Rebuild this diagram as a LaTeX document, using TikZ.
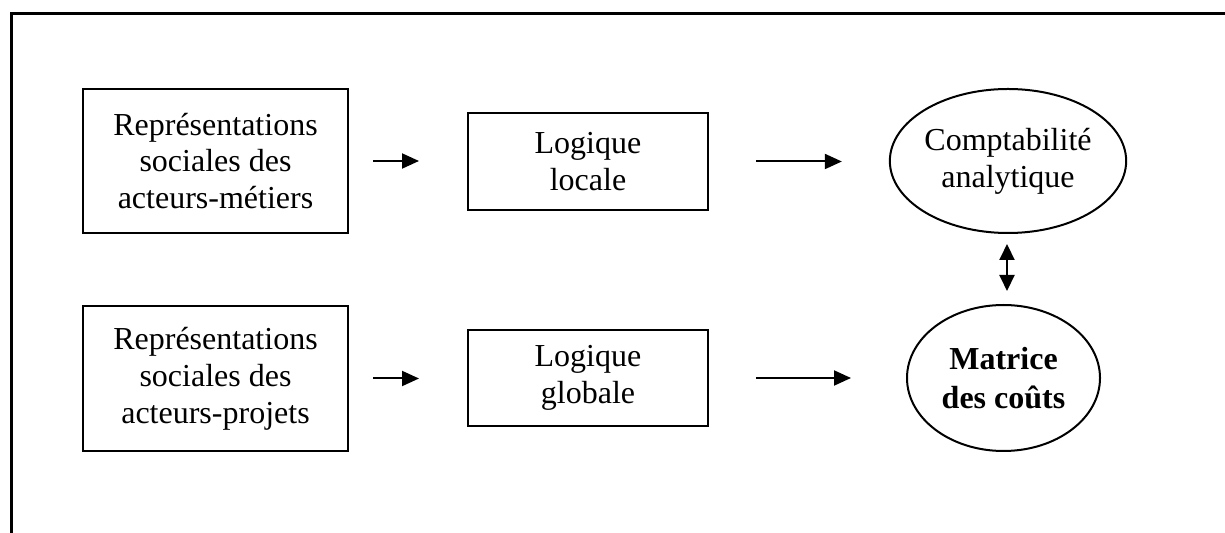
\documentclass[tikz,border=0pt]{standalone}
\usepackage{fontspec}
\setmainfont{Liberation Serif}
\usetikzlibrary{arrows.meta,shapes.geometric}
\begin{document}
\begin{tikzpicture}[x=0.5pt,y=-0.5pt,
  every node/.style={font=\fontsize{16}{18.4}\selectfont, align=center, line width=1pt, inner sep=0pt},
  rbox/.style={draw, rectangle},
  ellnode/.style={draw, ellipse},
  arr/.style={line width=1pt, -{Triangle[length=8.5pt,width=7.5pt]}},
  darr/.style={line width=1pt, {Triangle[length=8pt,width=7.5pt]}-{Triangle[length=8pt,width=7.5pt]}}]
\useasboundingbox (0,0) rectangle (1225,533);
\draw[line width=1.1pt] (11.5,533) -- (11.5,13.5) -- (1225,13.5);
% top row
\node[rbox, minimum width=132.5pt, minimum height=72pt] (b1) at (215.5,161) {Représentations\\sociales des\\acteurs-métiers};
\node[rbox, minimum width=120pt, minimum height=48.5pt] (b2) at (588,161.5) {Logique\\locale};
\node[ellnode, minimum width=109pt, minimum height=72pt] (e1) at (1008,161) {Comptabilité\\analytique};
% bottom row
\node[rbox, minimum width=132.5pt, minimum height=72.5pt] (b3) at (215.5,378.5) {Représentations\\sociales des\\acteurs-projets};
\node[rbox, minimum width=120pt, minimum height=48pt] (b4) at (588,378) {Logique\\globale};
\node[ellnode, minimum width=96.5pt, minimum height=73pt, font={\fontsize{16}{19.5}\selectfont\bfseries}] (e2) at (1003.5,378) {Matrice\\des coûts};
% arrows
\draw[arr, shorten <=12pt, shorten >=24pt] (b1.east) -- (b2.west |- b1.east);
\draw[arr, shorten <=23.5pt, shorten >=23.5pt] (b2.east) -- (e1.west |- b2.east);
\draw[arr, shorten <=12pt, shorten >=24pt] (b3.east) -- (b4.west |- b3.east);
\draw[arr, shorten <=23.5pt, shorten >=27.5pt] (b4.east) -- (e2.west |- b4.east);
\coordinate (dtop) at (1007,233);
\coordinate (dbot) at (1007,305);
\draw[darr, shorten <=5.5pt, shorten >=7pt] (dtop) -- (dbot);
\end{tikzpicture}
\end{document}
